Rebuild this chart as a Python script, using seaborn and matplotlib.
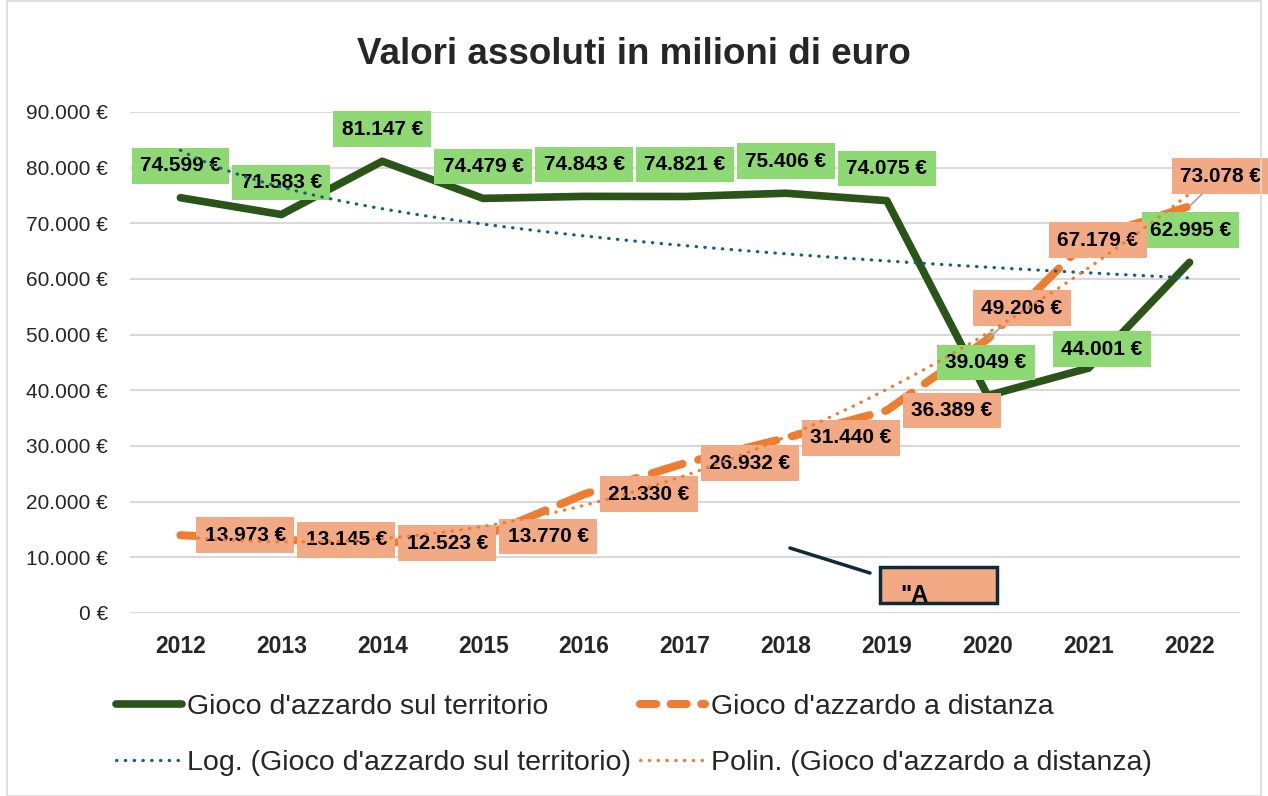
import numpy as np
import pandas as pd
import matplotlib
matplotlib.use("Agg")
import matplotlib.pyplot as plt
import seaborn as sns
from matplotlib.lines import Line2D
from matplotlib.patches import Rectangle

# dati (milioni di euro)
years = [2012, 2013, 2014, 2015, 2016, 2017, 2018, 2019, 2020, 2021, 2022]
territorio = [74599, 71583, 81147, 74479, 74843, 74821, 75406, 74075, 39049, 44001, 62995]
distanza = [13973, 13145, 12523, 13770, 21330, 26932, 31440, 36389, 49206, 67179, 73078]
y_ticks = [0, 10000, 20000, 30000, 40000, 50000, 60000, 70000, 80000, 90000]

nome_terr = "Gioco d'azzardo sul territorio"
nome_dist = "Gioco d'azzardo a distanza"
titolo = "Valori assoluti in milioni di euro"

# posizione etichette (pixel rispetto al punto)
off_terr = [(0, 32)] * 8 + [(-2, 33), (13, 19), (1, 32)]
off_dist = [(65, 0)] * 8 + [(34, 31), (9, -1), (31, 30)]
leader_dist = [False] * 8 + [True, False, True]

C_TERR = "#2b5418"
C_DIST = "#ed7d31"
C_LOG = "#156082"
BOX_TERR = "#8fd974"
BOX_DIST = "#f2aa84"
DOTS = (0.15, 2.6)

sns.set_theme(style="white")
plt.rcParams["font.family"] = ["Liberation Sans", "DejaVu Sans"]


def euro(v):
    return f"{v:,.0f} €".replace(",", ".")


df = pd.DataFrame({"anno": years, "terr": territorio, "dist": distanza})

fig = plt.figure(figsize=(12.68, 7.96), dpi=100)
ax = fig.add_axes([0.1025, 0.2299, 0.8754, 0.6294])

sns.lineplot(data=df, x="anno", y="terr", ax=ax, color=C_TERR, lw=5.5, zorder=2)
sns.lineplot(data=df, x="anno", y="dist", ax=ax, color=C_DIST, lw=5.8, zorder=2)
ax.lines[0].set_solid_capstyle("round")
ax.lines[0].set_solid_joinstyle("round")
ax.lines[1].set_dashes((4, 2))
ax.lines[1].set_dash_capstyle("round")

# linee di tendenza (come Excel: x = 1..n)
xn = np.arange(1, len(years) + 1)
a, b = np.polyfit(np.log(xn), territorio, 1)
p = np.polyfit(xn, distanza, 2)
xs = np.linspace(1, len(years), 200)
trend = pd.DataFrame({"anno": xs + years[0] - 1,
                      "log": a * np.log(xs) + b,
                      "pol": np.polyval(p, xs)})
sns.lineplot(data=trend, x="anno", y="log", ax=ax, color=C_LOG, lw=2.3, zorder=5)
sns.lineplot(data=trend, x="anno", y="pol", ax=ax, color=C_DIST, lw=2.3, zorder=5)
for ln in ax.lines[2:4]:
    ln.set_dashes(DOTS)
    ln.set_dash_capstyle("round")

# etichette dati
for x, v, off in zip(years, territorio, off_terr):
    ax.annotate(euro(v), (x, v), xytext=off, textcoords="offset pixels",
                ha="center", va="center", fontsize=15, fontweight="bold",
                color="black", zorder=4,
                bbox=dict(boxstyle="square,pad=0.4", fc=BOX_TERR, ec="none"))
for x, v, off, lead in zip(years, distanza, off_dist, leader_dist):
    arrow = dict(arrowstyle="-", color="#a6a6a6", lw=1.3, shrinkA=0, shrinkB=0) if lead else None
    ax.annotate(euro(v), (x, v), xytext=off, textcoords="offset pixels",
                ha="center", va="center", fontsize=15, fontweight="bold",
                color="black", zorder=4, arrowprops=arrow,
                bbox=dict(boxstyle="square,pad=0.4", fc=BOX_DIST, ec="none"))

# casella spuria "A
ax.plot([0.5946, 0.6667], [0.1297, 0.0798], transform=ax.transAxes,
        color="#0d2a38", lw=2.5, clip_on=False, zorder=6)
rect = Rectangle((0.6757, 0.02), 0.105, 0.0718, transform=ax.transAxes,
                 fc=BOX_DIST, ec="#0d2a38", lw=2.5, zorder=6, clip_on=False)
ax.add_patch(rect)
t = ax.text(0.6937, 0.058, '"A', transform=ax.transAxes, ha="left", va="top",
            fontsize=17, fontweight="bold", color="black", zorder=7)
t.set_clip_path(rect)

ax.set_xlim(years[0] - 0.5, years[-1] + 0.5)
ax.set_ylim(y_ticks[0], y_ticks[-1])
ax.set_xticks(years)
ax.set_xticklabels([str(y) for y in years], fontsize=16.5, fontweight="bold")
ax.set_yticks(y_ticks)
ax.set_yticklabels([euro(v) for v in y_ticks], fontsize=15)
ax.tick_params(length=0)
ax.tick_params(axis="x", pad=16)
ax.tick_params(axis="y", pad=16)
ax.set_xlabel("")
ax.set_ylabel("")
ax.grid(axis="y", color="#d9d9d9", lw=1.5)
ax.set_axisbelow(True)
for s in ax.spines.values():
    s.set_visible(False)

fig.text(0.5, 0.932, titolo, ha="center", va="center", fontsize=26.5,
         fontweight="bold")

handles = [
    Line2D([], [], color=C_TERR, lw=5.5, solid_capstyle="round"),
    Line2D([], [], color=C_LOG, lw=2.3, dashes=DOTS, dash_capstyle="round"),
    Line2D([], [], color=C_DIST, lw=5.8, dashes=(2, 1.8), dash_capstyle="round"),
    Line2D([], [], color=C_DIST, lw=2.3, dashes=DOTS, dash_capstyle="round"),
]
labels = [nome_terr, "Log. (" + nome_terr + ")", nome_dist, "Polin. (" + nome_dist + ")"]
fig.legend(handles, labels, ncol=2, loc="center", bbox_to_anchor=(0.5, 0.0765),
           frameon=False, prop=dict(size=20.5), handlelength=2.3,
           handletextpad=0.2, columnspacing=0.3, labelspacing=1.03)

fig.patches.append(Rectangle((0.0055, 0.0), 0.9890, 0.999, transform=fig.transFigure,
                             fill=False, ec="#d9d9d9", lw=1.2))

fig.savefig("out.png", dpi=100)
